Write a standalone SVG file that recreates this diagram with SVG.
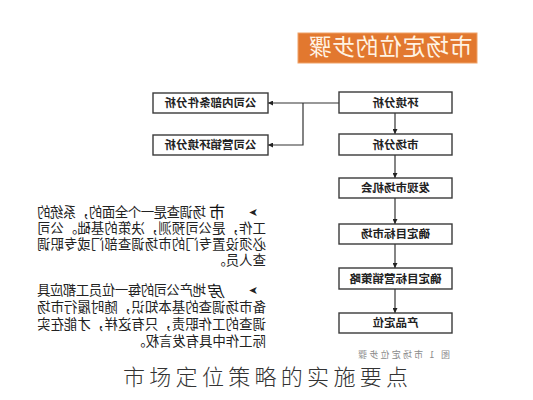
<svg xmlns="http://www.w3.org/2000/svg" width="533" height="400" viewBox="0 0 533 400">
<style>
.box rect{fill:#fff;stroke:#3a3a3a;stroke-width:1.4}
.box text{font-family:"Noto Sans CJK SC",sans-serif;font-size:11.5px;font-weight:bold;fill:#222;text-anchor:middle}
.conn line,.conn path{stroke:#333;stroke-width:1.2;fill:none}
.body{font-family:"Noto Sans CJK SC",sans-serif;font-size:13.4px;fill:#222}
.big{font-size:16px;fill:#111}
.bullet{font-family:"DejaVu Sans",sans-serif;font-size:11px;font-weight:bold}
</style>
<defs>
<marker id="ah" viewBox="0 0 6 6" refX="6" refY="3" markerWidth="5" markerHeight="5" orient="auto" markerUnits="userSpaceOnUse"><path d="M0,0 L6,3 L0,6z" fill="#222"/></marker>
</defs>
<rect width="533" height="400" fill="#fff"/>
<g transform="matrix(-1 0 0 1 533 0)">
  <g id="title">
    <rect x="56" y="33" width="179" height="30" fill="#E2782F" stroke="#EFA269" stroke-width="1"/>
    <text x="142.5" y="55" text-anchor="middle" font-family="'Noto Sans CJK SC',sans-serif" font-size="23" fill="#FFF3E3" textLength="164">市场定位的步骤</text>
  </g>
  <g class="conn" id="connectors">
    <line x1="194" y1="103" x2="265" y2="103" marker-end="url(#ah)"/>
    <path d="M230,103 V145 H265" marker-end="url(#ah)"/>
    <line x1="138" y1="113" x2="138" y2="134" marker-end="url(#ah)"/>
    <line x1="138" y1="155" x2="138" y2="178" marker-end="url(#ah)"/>
    <line x1="138" y1="198" x2="138" y2="224" marker-end="url(#ah)"/>
    <line x1="138" y1="244" x2="138" y2="268" marker-end="url(#ah)"/>
    <line x1="138" y1="289" x2="138" y2="313" marker-end="url(#ah)"/>
  </g>
  <g class="box" id="n1"><rect x="81" y="92" width="113" height="21"/><text x="137.5" y="106.5">环境分析</text></g>
  <g class="box" id="n2"><rect x="81" y="134" width="113" height="21"/><text x="137.5" y="148.5">市场分析</text></g>
  <g class="box" id="n3"><rect x="81" y="178" width="113" height="20"/><text x="137.5" y="192">发现市场机会</text></g>
  <g class="box" id="n4"><rect x="81" y="224" width="113" height="20"/><text x="137.5" y="238">确定目标市场</text></g>
  <g class="box" id="n5"><rect x="81" y="268" width="113" height="21"/><text x="137.5" y="282.5">确定目标营销策略</text></g>
  <g class="box" id="n6"><rect x="81" y="313" width="113" height="20"/><text x="137.5" y="327">产品定位</text></g>
  <g class="box" id="n7"><rect x="265" y="93" width="115" height="20"/><text x="322.5" y="107">公司内部条件分析</text></g>
  <g class="box" id="n8"><rect x="265" y="135" width="115" height="20"/><text x="322.5" y="149">公司营销环境分析</text></g>
  <g id="figcaption">
    <text x="83" y="358" font-family="'Noto Sans CJK SC',sans-serif" font-size="9" fill="#8a8a8a" textLength="92">图 1 市场定位步骤</text>
  </g>
  <g id="para1">
    <text class="body"><tspan class="bullet" x="275" y="216">➤</tspan><tspan class="big" x="308" y="218">市</tspan><tspan x="327" y="217" textLength="169">场调查是一个全面的，系统的</tspan><tspan x="267" y="233" textLength="229">工作，是公司预测，决策的基础。公司</tspan><tspan x="267" y="249" textLength="229">必须设置专门的市场调查部门或专职调</tspan><tspan x="267" y="265">查人员。</tspan></text>
  </g>
  <g id="para2">
    <text class="body"><tspan class="bullet" x="275" y="294">➤</tspan><tspan class="big" x="308" y="297" font-style="italic">房</tspan><tspan x="327" y="295" textLength="169">地产公司的每一位员工都应具</tspan><tspan x="267" y="312" textLength="229">备市场调查的基本知识，随时履行市场</tspan><tspan x="267" y="329" textLength="229">调查的工作职责，只有这样，才能在实</tspan><tspan x="267" y="346">际工作中具有发言权。</tspan></text>
  </g>
</g>
<g id="caption">
  <text x="123" y="385" font-family="'Noto Sans CJK SC',sans-serif" font-size="22" font-weight="300" fill="#333" textLength="285">市场定位策略的实施要点</text>
</g>
</svg>
